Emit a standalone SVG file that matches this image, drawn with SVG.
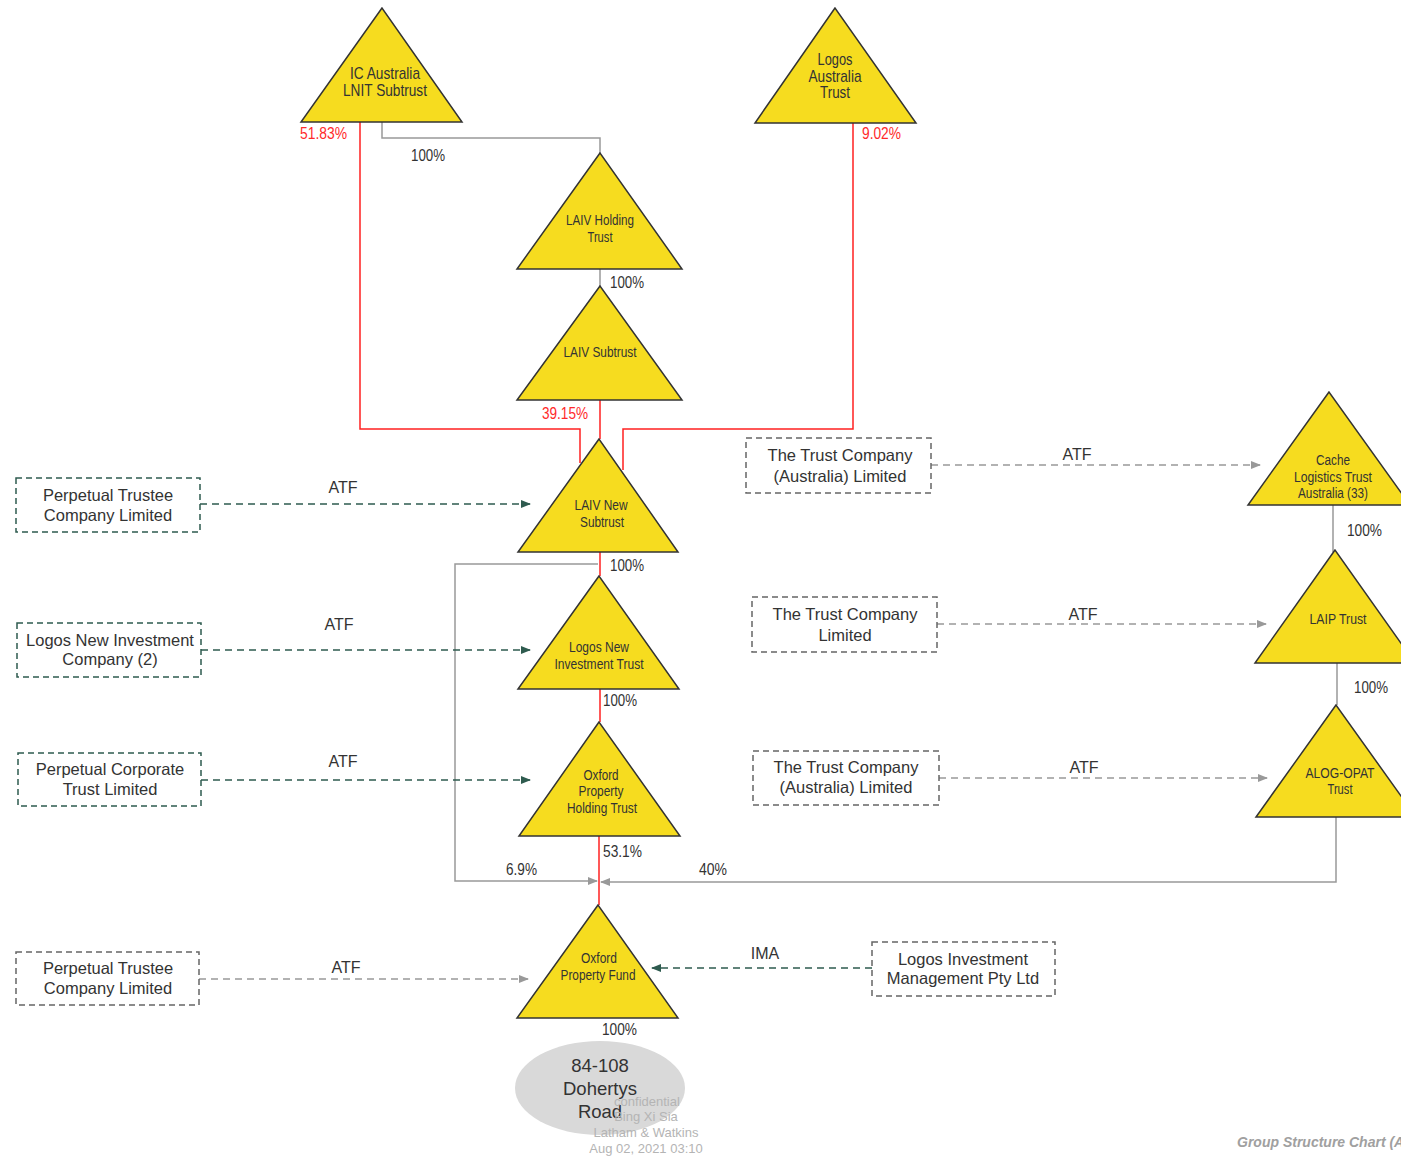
<svg xmlns="http://www.w3.org/2000/svg" width="1401" height="1158" viewBox="0 0 1401 1158">
<style>
.tri{fill:#f6dc1f;stroke:#333;stroke-width:1.5}
.tt{font-family:"Liberation Sans",Arial,sans-serif;fill:#333;text-anchor:middle}
.t17{font-size:17px}
.t14{font-size:14px}
.pct{font-family:"Liberation Sans",Arial,sans-serif;font-size:17px;fill:#333}
.red{fill:#ff2a2a}
.bx{font-family:"Liberation Sans",Arial,sans-serif;font-size:16.5px;fill:#333;text-anchor:middle}
.gbox{fill:none;stroke:#2e5b4f;stroke-width:1.5;stroke-dasharray:6,4}
.ybox{fill:none;stroke:#666;stroke-width:1.5;stroke-dasharray:6,4}
.garr{fill:none;stroke:#2e5b4f;stroke-width:1.5;stroke-dasharray:7,5}
.yarr{fill:none;stroke:#999;stroke-width:1.5;stroke-dasharray:7,5}
.sol{fill:none;stroke:#999;stroke-width:1.5}
.rl{fill:none;stroke:#ff2020;stroke-width:1.5}
.lbl{font-family:"Liberation Sans",Arial,sans-serif;font-size:16px;fill:#333;text-anchor:middle}
.wm{font-family:"Liberation Sans",Arial,sans-serif;font-size:13px;fill:#b4b4b4;text-anchor:middle}
</style>
<defs>
<marker id="ag" markerWidth="10" markerHeight="10" refX="9" refY="5" orient="auto" markerUnits="userSpaceOnUse"><path d="M0,1 L10,5 L0,9 Z" fill="#2e5b4f"/></marker>
<marker id="ay" markerWidth="10" markerHeight="10" refX="9" refY="5" orient="auto" markerUnits="userSpaceOnUse"><path d="M0,1 L10,5 L0,9 Z" fill="#999"/></marker>
</defs>
<rect width="1401" height="1158" fill="#fff"/>

<g id="connectors">
<path class="sol" d="M382,122 V138 H600 V153"/>
<path class="rl" d="M360,122 V429 H580 V463"/>
<path class="rl" d="M853,123 V429 H623 V470"/>
<path class="sol" d="M600,269 V286"/>
<path class="rl" d="M600,400 V439"/>
<path class="rl" d="M600,552 V576"/>
<path class="sol" d="M598,564 H455 V881 H597" marker-end="url(#ay)"/>
<path class="rl" d="M600,689 V722"/>
<path class="rl" d="M599,836 V905"/>
<path class="sol" d="M1336,817 V882 H601" marker-end="url(#ay)"/>
<path class="sol" d="M1333,505 V552"/>
<path class="sol" d="M1337,663 V705"/>
<path class="garr" d="M200,504 H530" marker-end="url(#ag)"/>
<path class="garr" d="M201,650 H530" marker-end="url(#ag)"/>
<path class="garr" d="M201,780 H530" marker-end="url(#ag)"/>
<path class="yarr" d="M199,979 H528" marker-end="url(#ay)"/>
<path class="yarr" d="M931,465 H1260" marker-end="url(#ay)"/>
<path class="yarr" d="M937,624 H1266" marker-end="url(#ay)"/>
<path class="yarr" d="M939,778 H1267" marker-end="url(#ay)"/>
<path class="garr" d="M872,968 H652" marker-end="url(#ag)"/>
<text class="lbl" x="343" y="493">ATF</text>
<text class="lbl" x="339" y="630">ATF</text>
<text class="lbl" x="343" y="767">ATF</text>
<text class="lbl" x="346" y="973">ATF</text>
<text class="lbl" x="1077" y="460">ATF</text>
<text class="lbl" x="1083" y="620">ATF</text>
<text class="lbl" x="1084" y="773">ATF</text>
<text class="lbl" x="765" y="959">IMA</text>
<text class="pct red" x="300" y="139" textLength="47" lengthAdjust="spacingAndGlyphs">51.83%</text>
<text class="pct" x="411" y="161" textLength="34" lengthAdjust="spacingAndGlyphs">100%</text>
<text class="pct red" x="862" y="139" textLength="39" lengthAdjust="spacingAndGlyphs">9.02%</text>
<text class="pct" x="610" y="288" textLength="34" lengthAdjust="spacingAndGlyphs">100%</text>
<text class="pct red" x="542" y="419" textLength="46" lengthAdjust="spacingAndGlyphs">39.15%</text>
<text class="pct" x="610" y="571" textLength="34" lengthAdjust="spacingAndGlyphs">100%</text>
<text class="pct" x="603" y="706" textLength="34" lengthAdjust="spacingAndGlyphs">100%</text>
<text class="pct" x="603" y="857" textLength="39" lengthAdjust="spacingAndGlyphs">53.1%</text>
<text class="pct" x="506" y="875" textLength="31" lengthAdjust="spacingAndGlyphs">6.9%</text>
<text class="pct" x="699" y="875" textLength="28" lengthAdjust="spacingAndGlyphs">40%</text>
<text class="pct" x="602" y="1035" textLength="35" lengthAdjust="spacingAndGlyphs">100%</text>
<text class="pct" x="1347" y="536" textLength="35" lengthAdjust="spacingAndGlyphs">100%</text>
<text class="pct" x="1354" y="693" textLength="34" lengthAdjust="spacingAndGlyphs">100%</text>
</g>

<g id="ic-australia">
<polygon class="tri" points="382,8 301,122 462,122"/>
<text class="tt t17" x="385" y="79" textLength="70" lengthAdjust="spacingAndGlyphs">IC Australia</text>
<text class="tt t17" x="385" y="96" textLength="84" lengthAdjust="spacingAndGlyphs">LNIT Subtrust</text>
</g>
<g id="logos-australia">
<polygon class="tri" points="835,8 755,123 916,123"/>
<text class="tt t17" x="835" y="65" textLength="35" lengthAdjust="spacingAndGlyphs">Logos</text>
<text class="tt t17" x="835" y="82" textLength="53" lengthAdjust="spacingAndGlyphs">Australia</text>
<text class="tt t17" x="835" y="98" textLength="30" lengthAdjust="spacingAndGlyphs">Trust</text>
</g>
<g id="laiv-holding">
<polygon class="tri" points="600,153 517,269 682,269"/>
<text class="tt t14" x="600" y="225" textLength="68" lengthAdjust="spacingAndGlyphs">LAIV Holding</text>
<text class="tt t14" x="600" y="242" textLength="25" lengthAdjust="spacingAndGlyphs">Trust</text>
</g>
<g id="laiv-subtrust">
<polygon class="tri" points="600,286 517,400 682,400"/>
<text class="tt t14" x="600" y="357" textLength="73" lengthAdjust="spacingAndGlyphs">LAIV Subtrust</text>
</g>
<g id="laiv-new">
<polygon class="tri" points="599,439 518,552 678,552"/>
<text class="tt t14" x="601" y="510" textLength="53" lengthAdjust="spacingAndGlyphs">LAIV New</text>
<text class="tt t14" x="602" y="527" textLength="44" lengthAdjust="spacingAndGlyphs">Subtrust</text>
</g>
<g id="logos-new-trust">
<polygon class="tri" points="599,576 518,689 679,689"/>
<text class="tt t14" x="599" y="652" textLength="60" lengthAdjust="spacingAndGlyphs">Logos New</text>
<text class="tt t14" x="599" y="669" textLength="89" lengthAdjust="spacingAndGlyphs">Investment Trust</text>
</g>
<g id="oxford-holding">
<polygon class="tri" points="599,722 519,836 680,836"/>
<text class="tt t14" x="601" y="780" textLength="35" lengthAdjust="spacingAndGlyphs">Oxford</text>
<text class="tt t14" x="601" y="796" textLength="45" lengthAdjust="spacingAndGlyphs">Property</text>
<text class="tt t14" x="602" y="813" textLength="70" lengthAdjust="spacingAndGlyphs">Holding Trust</text>
</g>
<g id="oxford-fund">
<polygon class="tri" points="598,905 517,1018 678,1018"/>
<text class="tt t14" x="599" y="963" textLength="36" lengthAdjust="spacingAndGlyphs">Oxford</text>
<text class="tt t14" x="598" y="980" textLength="75" lengthAdjust="spacingAndGlyphs">Property Fund</text>
</g>
<g id="cache">
<polygon class="tri" points="1329,392 1248,505 1410,505"/>
<text class="tt t14" x="1333" y="465" textLength="34" lengthAdjust="spacingAndGlyphs">Cache</text>
<text class="tt t14" x="1333" y="482" textLength="78" lengthAdjust="spacingAndGlyphs">Logistics Trust</text>
<text class="tt t14" x="1333" y="498" textLength="70" lengthAdjust="spacingAndGlyphs">Australia (33)</text>
</g>
<g id="laip">
<polygon class="tri" points="1335,550 1255,663 1415,663"/>
<text class="tt t14" x="1338" y="624" textLength="57" lengthAdjust="spacingAndGlyphs">LAIP Trust</text>
</g>
<g id="alog-opat">
<polygon class="tri" points="1336,705 1256,817 1416,817"/>
<text class="tt t14" x="1340" y="778" textLength="69" lengthAdjust="spacingAndGlyphs">ALOG-OPAT</text>
<text class="tt t14" x="1340" y="794" textLength="25" lengthAdjust="spacingAndGlyphs">Trust</text>
</g>

<g id="perpetual-trustee-1">
<rect class="gbox" x="16" y="478" width="184" height="54"/>
<text class="bx" x="108" y="501">Perpetual Trustee</text>
<text class="bx" x="108" y="521">Company Limited</text>
</g>
<g id="logos-new-company">
<rect class="gbox" x="17" y="623" width="184" height="54"/>
<text class="bx" x="110" y="646">Logos New Investment</text>
<text class="bx" x="110" y="665">Company (2)</text>
</g>
<g id="perpetual-corporate">
<rect class="gbox" x="18" y="753" width="183" height="53"/>
<text class="bx" x="110" y="775">Perpetual Corporate</text>
<text class="bx" x="110" y="795">Trust Limited</text>
</g>
<g id="perpetual-trustee-2">
<rect class="ybox" x="16" y="952" width="183" height="53"/>
<text class="bx" x="108" y="974">Perpetual Trustee</text>
<text class="bx" x="108" y="994">Company Limited</text>
</g>
<g id="trust-co-aus-1">
<rect class="ybox" x="746" y="438" width="185" height="55"/>
<text class="bx" x="840" y="461">The Trust Company</text>
<text class="bx" x="840" y="482">(Australia) Limited</text>
</g>
<g id="trust-co">
<rect class="ybox" x="752" y="597" width="185" height="55"/>
<text class="bx" x="845" y="620">The Trust Company</text>
<text class="bx" x="845" y="641">Limited</text>
</g>
<g id="trust-co-aus-2">
<rect class="ybox" x="753" y="751" width="186" height="54"/>
<text class="bx" x="846" y="773">The Trust Company</text>
<text class="bx" x="846" y="793">(Australia) Limited</text>
</g>
<g id="logos-im">
<rect class="ybox" x="872" y="942" width="183" height="54"/>
<text class="bx" x="963" y="965">Logos Investment</text>
<text class="bx" x="963" y="984">Management Pty Ltd</text>
</g>

<g id="property">
<ellipse cx="600" cy="1088" rx="85" ry="47" fill="#d9d9d9"/>
<text class="bx" style="font-size:18.5px" x="600" y="1072">84-108</text>
<text class="bx" style="font-size:18.5px" x="600" y="1095">Dohertys</text>
<text class="bx" style="font-size:18.5px" x="600" y="1118">Road</text>
</g>
<g id="watermark">
<text class="wm" x="647" y="1106">confidential</text>
<text class="wm" x="646" y="1121">Bing Xi Sia</text>
<text class="wm" x="646" y="1137">Latham &amp; Watkins</text>
<text class="wm" x="646" y="1153">Aug 02, 2021 03:10</text>
</g>
<text x="1237" y="1147" font-family="Liberation Sans,Arial,sans-serif" font-size="14" font-style="italic" font-weight="bold" fill="#a0a0a0">Group Structure Chart (A</text>
</svg>
